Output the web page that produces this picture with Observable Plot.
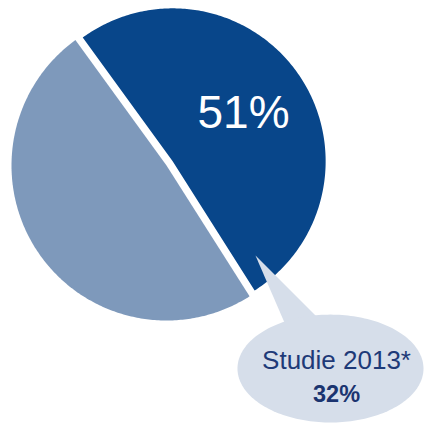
<!DOCTYPE html>
<html><head><meta charset="utf-8">
<script src="https://cdn.jsdelivr.net/npm/d3@7"></script>
<script src="https://cdn.jsdelivr.net/npm/@observablehq/plot@0.6"></script>
<style>body{margin:0;background:#fff} svg{display:block}</style>
</head><body><div id="chart"></div>
<script>
// ---- data ----
const categories = ["Anteil", "Rest"];
const values = [51, 49];
const sliceColors = ["#08468a", "#7e99bb"];
const sliceLabels = ["51%", ""];
const calloutLines = ["Studie 2013*", "32%"];
const calloutColor = "#d6deea";

// ---- layout (pixels) ----
const W = 424, H = 423, CX = 166, CY = 165, R = 155;
const startDeg = -36, explode = 0.048, explodedRadius = 0.987, labelDist = 0.56;
const font = "Liberation Sans, Arial, sans-serif";
// callout geometry in pie-radius units
const bubble = {cx: 1.058, cy: -1.31, rx: 0.6, ry: 0.348};
const tail = [[0.574, -0.581], [0.761, -1.013], [0.968, -0.974]];

const arcs = d3.pie().sort(null)
  .startAngle(startDeg * Math.PI / 180)
  .endAngle(startDeg * Math.PI / 180 + 2 * Math.PI)(values);

const polys = [];
const labels = [];
arcs.forEach((a, i) => {
  const mid = (a.startAngle + a.endAngle) / 2;
  const off = i === 0 ? explode : 0;
  const r = i === 0 ? explodedRadius : 1;
  const ox = off * Math.sin(mid), oy = off * Math.cos(mid);
  const id = "s" + i, cat = categories[i];
  polys.push({id, cat, x: ox, y: oy});
  const n = 240;
  for (let k = 0; k <= n; k++) {
    const t = a.startAngle + (a.endAngle - a.startAngle) * k / n;
    polys.push({id, cat, x: ox + r * Math.sin(t), y: oy + r * Math.cos(t)});
  }
  polys.push({id, cat, x: ox, y: oy});
  if (sliceLabels[i]) labels.push({text: sliceLabels[i], x: ox + labelDist * r * Math.sin(mid), y: oy + labelDist * r * Math.cos(mid)});
});
tail.forEach(([x, y]) => polys.push({id: "tail", cat: "Callout", x, y}));
for (let k = 0; k <= 200; k++) {
  const t = 2 * Math.PI * k / 200;
  polys.push({id: "bubble", cat: "Callout", x: bubble.cx + bubble.rx * Math.cos(t), y: bubble.cy + bubble.ry * Math.sin(t)});
}
const calloutText = [
  {text: calloutLines[0], x: bubble.cx + 0.039, y: bubble.cy, bold: false},
  {text: calloutLines[1], x: bubble.cx + 0.039, y: bubble.cy - 0.219, bold: true}
];

const chart = Plot.plot({
  width: W, height: H,
  marginTop: 0, marginRight: 0, marginBottom: 0, marginLeft: 0,
  style: {background: "#fff"},
  x: {domain: [-CX / R, (W - CX) / R], axis: null},
  y: {domain: [(CY - H) / R, CY / R], axis: null},
  color: {domain: [...categories, "Callout"], range: [...sliceColors, calloutColor]},
  marks: [
    Plot.line(polys, {x: "x", y: "y", z: "id", fill: "cat", stroke: "none"}),
    Plot.text(labels, {x: "x", y: "y", text: "text", fill: "white", fontSize: 46, fontFamily: font, lineAnchor: "middle"}),
    Plot.text(calloutText.filter(d => !d.bold), {x: "x", y: "y", text: "text", fill: "#1e3a78", fontSize: 26, fontFamily: font, lineAnchor: "bottom"}),
    Plot.text(calloutText.filter(d => d.bold), {x: "x", y: "y", text: "text", fill: "#1b3470", fontSize: 23.5, fontWeight: "bold", fontFamily: font, lineAnchor: "bottom"})
  ]
});
document.getElementById("chart").appendChild(chart);
</script>
</body></html>
